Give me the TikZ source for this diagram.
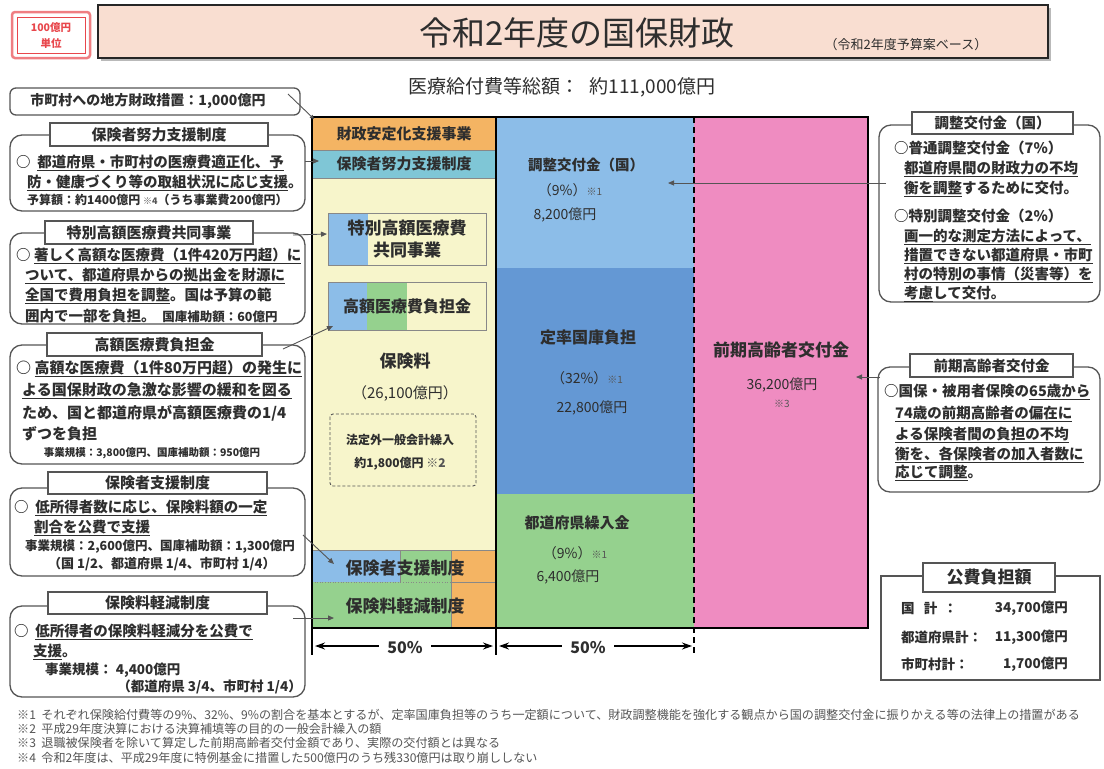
\documentclass[tikz,border=0pt]{standalone}
\usepackage{fontspec}
\setmainfont{Noto Sans CJK JP}
\usetikzlibrary{arrows.meta}
\newcommand{\fsz}[1]{\fontsize{#1pt}{#1pt}\selectfont}
\newcommand{\unl}[1]{\underline{#1}}
\definecolor{cOrange}{HTML}{F4B463}
\definecolor{cTeal}{HTML}{7FC6D6}
\definecolor{cYellow}{HTML}{F7F5CB}
\definecolor{cBlueL}{HTML}{8CBDE8}
\definecolor{cBlueD}{HTML}{6498D4}
\definecolor{cGreen}{HTML}{95D18E}
\definecolor{cPink}{HTML}{EF8CC1}
\definecolor{cPeach}{HTML}{F9DED1}
\definecolor{cRed}{HTML}{E8474C}
\definecolor{cLine}{HTML}{555555}
\definecolor{cText}{HTML}{2E2E2E}
\definecolor{cNote}{HTML}{555555}
\begin{document}
\begin{tikzpicture}[x=1pt,y=-1pt,
  tx/.style={inner sep=0pt, text=cText, font=\bfseries\fsz{#1}}, tx/.default=14.5,
  lt/.style={tx=#1, anchor=west}, lt/.default=14.5,
  rbox/.style={draw=cLine, line width=1.3pt, rounded corners=12pt},
  tbox/.style={draw=cLine, line width=1.3pt, fill=white},
  arr/.style={-{Triangle[length=6pt,width=5pt]}, line width=0.9pt, draw=cLine},
  thin/.style={draw=cLine!70, line width=0.6pt},
  note/.style={inner sep=0pt, anchor=west, text=cNote, font=\fsz{12.1}}]
\useasboundingbox (0,0) rectangle (1104,769);
\fill[white] (0,0) rectangle (1104,769);

% unit box
\draw[draw=cRed!70, line width=2.5pt, rounded corners=3pt] (12,12) rectangle (90,58);
\draw[draw=cRed, line width=0.8pt] (17,17) rectangle (85,53);
\node[tx=10.5, text=cRed] (unit1) at (51,28) {100億円};
\node[tx=10.5, text=cRed] (unit2) at (51,43) {単位};

% title
\fill[gray!55] (101,8) rectangle (1051,61);
\draw[fill=cPeach, line width=2.8pt, draw=black!85] (98,5) rectangle (1048,58);
\node[inner sep=0pt, text=cText, font=\fsz{33}] (title) at (577,33) {令和2年度の国保財政};
\node[inner sep=0pt, text=cText, font=\fsz{13}] (subtitle) at (906,45) {（令和2年度予算案ベース）};
\node[inner sep=0pt, text=cText, font=\fsz{19}] (total) at (562,87) {医療給付費等総額：\hspace{10pt}約111,000億円};

% main columns fills
\fill[cYellow] (312,117) rectangle (496,628);
\fill[cOrange] (312,117) rectangle (496,150);
\fill[cTeal] (312,150) rectangle (496,178);
\fill[cBlueL] (312,550) rectangle (400,582);
\fill[cGreen] (400,550) rectangle (451,582);
\fill[cOrange] (451,550) rectangle (496,628);
\fill[cGreen] (312,582) rectangle (451,628);
\fill[cBlueL] (496,117) rectangle (694,268);
\fill[cBlueD] (496,268) rectangle (694,494);
\fill[cGreen] (496,494) rectangle (694,628);
\fill[cPink] (694,117) rectangle (868,628);
\draw[thin] (312,150) -- (496,150);
\draw[thin] (312,178) -- (496,178);
\draw[thin] (312,550) -- (496,550);
\draw[thin] (400,550) -- (400,582);
\draw[thin] (451,550) -- (451,628);
\draw[thin, dotted] (312,582) -- (451,582);
\draw[thin] (451,582) -- (496,582);

% inner boxes
\fill[cBlueL] (328,213) rectangle (368,265);
\draw[thin] (328,213) rectangle (486,265);
\fill[cBlueL] (328,282) rectangle (367,330);
\fill[cGreen] (367,282) rectangle (407,330);
\draw[thin] (328,282) rectangle (486,330);
\draw[cLine, line width=0.9pt, dash pattern=on 3pt off 2pt, rounded corners=3pt] (330,414) rectangle (476,486);

% main frame
\draw[line width=2.6pt] (312,117) rectangle (868,628);
\draw[line width=2.6pt] (496,117) -- (496,655);
\draw[line width=2.6pt] (312,628) -- (312,655);
\draw[line width=2pt, dash pattern=on 6pt off 4pt] (694,117) -- (694,655);

% left column labels
\node[tx=15] (c1) at (404,134) {財政安定化支援事業};
\node[tx=15] (c2) at (404,164) {保険者努力支援制度};
\node[tx=17] (c3a) at (407,228) {特別高額医療費};
\node[tx=17] (c3b) at (407,250) {共同事業};
\node[tx=16] (c4) at (407,306) {高額医療費負担金};
\node[tx=17] (c5) at (405,361) {保険料};
\node[inner sep=0pt, text=cText, font=\fsz{15}] (c6) at (405,393) {（26,100億円）};
\node[tx=12] (c7) at (400,440) {法定外一般会計繰入};
\node[tx=12] (c8) at (400,464) {約1,800億円 {\color{cNote}※2}};
\node[tx=17] (c9) at (405,568) {保険者支援制度};
\node[tx=17] (c10) at (405,606) {保険料軽減制度};

% middle column labels
\node[tx=14.5] (m1) at (586,165) {調整交付金（国）};
\node[inner sep=0pt, text=cText, font=\fsz{14}] (m2) at (570,190) {（9\%）{\fsz{10}\color{cNote}※1}};
\node[inner sep=0pt, text=cText, font=\fsz{14}] (m3) at (565,215) {8,200億円};
\node[tx=16] (m4) at (588,337) {定率国庫負担};
\node[inner sep=0pt, text=cText, font=\fsz{14}] (m5) at (587,378) {（32\%）{\fsz{10}\color{cNote}※1}};
\node[inner sep=0pt, text=cText, font=\fsz{14}] (m6) at (592,408) {22,800億円};
\node[tx=15] (m7) at (577,523) {都道府県繰入金};
\node[inner sep=0pt, text=cText, font=\fsz{14}] (m8) at (575,553) {（9\%）{\fsz{10}\color{cNote}※1}};
\node[inner sep=0pt, text=cText, font=\fsz{14}] (m9) at (568,577) {6,400億円};
\node[tx=17] (p1) at (781,350) {前期高齢者交付金};
\node[inner sep=0pt, text=cText, font=\fsz{14}] (p2) at (782,385) {36,200億円};
\node[inner sep=0pt, text=cNote, font=\fsz{10}] (p3) at (782,404) {※3};

% 50% arrows
\coordinate (w1a) at (315,646); \coordinate (w1b) at (493,646);
\coordinate (w2a) at (499,646); \coordinate (w2b) at (692,646);
\draw[{Stealth[length=10pt,width=7pt]}-{Stealth[length=10pt,width=7pt]}, line width=1.5pt] (w1a) -- (w1b);
\draw[{Stealth[length=10pt,width=7pt]}-{Stealth[length=10pt,width=7pt]}, line width=1.5pt] (w2a) -- (w2b);
\node[fill=white, inner xsep=8pt, inner ysep=2pt, text=cText, font=\bfseries\fsz{16}] (pc1) at (405,648) {50\%};
\node[fill=white, inner xsep=8pt, inner ysep=2pt, text=cText, font=\bfseries\fsz{16}] (pc2) at (588,648) {50\%};

% ---------- left callouts ----------
% box 1
\draw[rbox, rounded corners=6pt] (10,88) rectangle (300,115);
\node[tx=14] (L1) at (148,101) {市町村への地方財政措置：1,000億円};
\coordinate (L1s) at (288,94); \coordinate (L1e) at (314,119);
\draw[arr, -{Triangle[length=4pt,width=4pt]}] (L1s) -- (L1e);

% box 2
\draw[rbox] (10,135) rectangle (305,211);
\draw[tbox] (50,123) rectangle (268,146);
\node[tx=15] (L2t) at (159,134.5) {保険者努力支援制度};
\node[lt] (L2a) at (16,163) {○\ \ \unl{都道府県・市町村の医療費適正化、予}};
\node[lt] (L2b) at (27,183) {\unl{防・健康づくり等の取組状況に応じ支援}。};
\node[lt=12] (L2c) at (27,200) {予算額：約1400億円 {\fsz{9}\color{cNote}※4}（うち事業費200億円）};
\coordinate (L2s) at (305,161); \coordinate (L2e) at (319,161);
\draw[arr] (L2s) -- (L2e);

% box 3
\draw[rbox] (10,233) rectangle (305,324);
\draw[tbox] (45,221) rectangle (253,244);
\node[tx=15] (L3t) at (149,232.5) {特別高額医療費共同事業};
\node[lt] (L3a) at (16,256) {○ \unl{著しく高額な医療費（1件420万円超）に}};
\node[lt] (L3b) at (25,276) {\unl{ついて、都道府県からの拠出金を財源に}};
\node[lt] (L3c) at (25,296) {\unl{全国で費用負担を調整}。国は予算の範};
\node[lt] (L3d) at (25,316) {囲内で一部を負担。\ \ {\fsz{12.5}国庫補助額：60億円}};
\coordinate (L3s) at (293,235); \coordinate (L3e) at (327,234);
\draw[arr] (L3s) -- (L3e);

% box 4
\draw[rbox] (10,345) rectangle (305,464);
\draw[tbox] (47,333) rectangle (262,356);
\node[tx=15] (L4t) at (154.5,344.5) {高額医療費負担金};
\node[lt=15] (L4a) at (16,369) {○ \unl{高額な医療費（1件80万円超）の発生に}};
\node[lt=15] (L4b) at (22,391) {\unl{よる国保財政の急激な影響の緩和を図る}};
\node[lt=15] (L4c) at (22,413) {ため、国と都道府県が高額医療費の1/4};
\node[lt=15] (L4d) at (22,434) {ずつを負担};
\node[tx=10.5] (L4e) at (152,453) {事業規模：3,800億円、国庫補助額：950億円};
\coordinate (L4s) at (283,349); \coordinate (L4e) at (333,326);
\draw[arr] (L4s) -- (L4e);

% box 5
\draw[rbox] (10,488) rectangle (305,576);
\draw[tbox] (48,472) rectangle (267,494);
\node[tx=15] (L5t) at (157.5,483) {保険者支援制度};
\node[lt] (L5a) at (14,508) {○\ \ \unl{低所得者数に応じ、保険料額の一定}};
\node[lt] (L5b) at (34,528) {\unl{割合を公費で支援}};
\node[lt=12.5] (L5c) at (25,547) {事業規模：2,600億円、国庫補助額：1,300億円};
\node[lt=13] (L5d) at (48,564) {（国 1/2、都道府県 1/4、市町村 1/4）};
\coordinate (L5s) at (303,535); \coordinate (L5e) at (334,564);
\draw[arr] (L5s) -- (L5e);

% box 6
\draw[rbox] (10,606) rectangle (305,697);
\draw[tbox] (48,592) rectangle (267,614);
\node[tx=15] (L6t) at (157.5,603) {保険料軽減制度};
\node[lt] (L6a) at (14,632) {○\ \ \unl{低所得者の保険料軽減分を公費で}};
\node[lt] (L6b) at (33,652) {\unl{支援}。};
\node[lt=13.5] (L6c) at (45,670) {事業規模：\ 4,400億円};
\node[tx=13.5, anchor=east] (L6d) at (302,687) {（都道府県 3/4、市町村 1/4）};
\coordinate (L6s) at (293,618); \coordinate (L6e) at (334,618);
\draw[arr] (L6s) -- (L6e);

% ---------- right callouts ----------
% R1
\draw[rbox] (879,125) rectangle (1100,302);
\draw[tbox] (912,112) rectangle (1073,134);
\node[tx=14.5] (R1t) at (992.5,123) {調整交付金（国）};
\node[lt=14.5] (R1a) at (894,148) {○普通調整交付金（7\%）};
\node[lt=14.5] (R1b) at (904,169) {\unl{都道府県間の財政力の不均}};
\node[lt=14.5] (R1c) at (904,189) {\unl{衡を調整}するために交付。};
\node[lt=14.5] (R1d) at (894,216) {○特別調整交付金（2\%）};
\node[lt=14.5] (R1e) at (904,237) {\unl{画一的な測定方法によって、}};
\node[lt=14.5] (R1f) at (904,256) {\unl{措置できない都道府県・市町}};
\node[lt=14.5] (R1g) at (904,275) {\unl{村の特別の事情（災害等）を}};
\node[lt=14.5] (R1h) at (904,294) {\unl{考慮}して交付。};
\coordinate (R1s) at (886,183); \coordinate (R1e) at (668,183);
\draw[arr] (R1s) -- (R1e);

% R2
\draw[rbox] (878,367) rectangle (1100,492);
\draw[tbox] (910,354) rectangle (1073,377);
\node[tx=14.5] (R2t) at (991.5,365.5) {前期高齢者交付金};
\node[lt=14.5] (R2a) at (884,392) {○国保・被用者保険の\unl{65歳から}};
\node[lt=14.5] (R2b) at (895,414) {\unl{74歳の前期高齢者の偏在に}};
\node[lt=14.5] (R2c) at (895,435) {\unl{よる保険者間の負担の不均}};
\node[lt=14.5] (R2d) at (895,455) {\unl{衡を、各保険者の加入者数に}};
\node[lt=14.5] (R2e) at (895,473) {\unl{応じて調整}。};
\coordinate (R2s) at (880,377); \coordinate (R2e) at (856,377);
\draw[arr] (R2s) -- (R2e);

% R3
\draw[draw=cLine, line width=1.3pt] (881,576) rectangle (1100,680);
\draw[tbox] (923,563) rectangle (1055,592);
\node[tx=17] (R3t) at (989,577.5) {公費負担額};
\node[lt=13.5] (R3a) at (901,608) {国\ \ \ 計\ \ ：};
\node[lt=13.5] (R3b) at (901,637) {都道府県計：};
\node[lt=13.5] (R3c) at (901,664) {市町村計：};
\node[tx=13.5, anchor=east] (R3d) at (1068,608) {34,700億円};
\node[tx=13.5, anchor=east] (R3e) at (1068,637) {11,300億円};
\node[tx=13.5, anchor=east] (R3f) at (1068,664) {1,700億円};

% footnotes
\node[note] (n1) at (17,715) {※1\ \ それぞれ保険給付費等の9\%、32\%、9\%の割合を基本とするが、定率国庫負担等のうち一定額について、財政調整機能を強化する観点から国の調整交付金に振りかえる等の法律上の措置がある};
\node[note] (n2) at (17,729) {※2\ \ 平成29年度決算における決算補填等の目的の一般会計繰入の額};
\node[note] (n3) at (17,743) {※3\ \ 退職被保険者を除いて算定した前期高齢者交付金額であり、実際の交付額とは異なる};
\node[note] (n4) at (17,758) {※4\ \ 令和2年度は、平成29年度に特例基金に措置した500億円のうち残330億円は取り崩ししない};
\end{tikzpicture}
\end{document}
